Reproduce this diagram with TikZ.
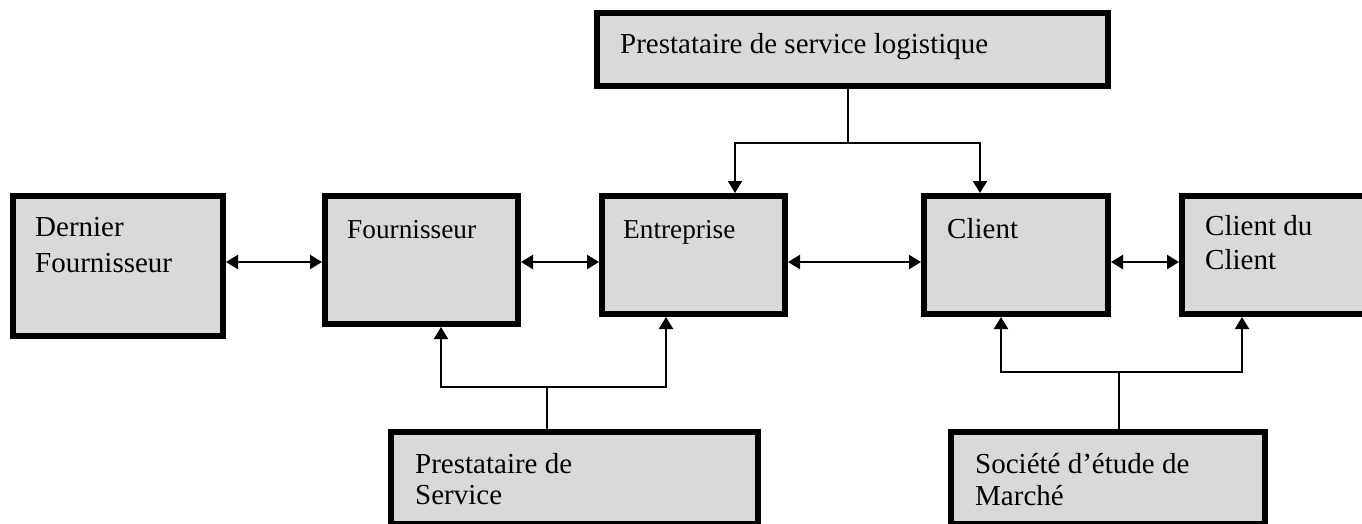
\documentclass[tikz,border=0pt]{standalone}
\usepackage{fontspec}
\setmainfont{Liberation Serif}
\usetikzlibrary{arrows.meta}
\definecolor{boxgray}{HTML}{D9D9D9}
\tikzset{
  box/.style={draw=black, line width=6pt, fill=boxgray, rectangle, inner sep=0pt},
  conn/.style={line width=2pt, line join=miter},
  hconn/.style={line width=2.4pt},
  tipA/.tip={Triangle[length=12pt,width=14pt]},
  txt/.style={anchor=base west, inner sep=0pt, font=\fontsize{29}{34}\selectfont},
  txts/.style={anchor=base west, inner sep=0pt, font=\fontsize{27.3}{32}\selectfont}
}
\begin{document}
\begin{tikzpicture}[x=1pt,y=-1pt]
\clip (0,0) rectangle (1362,523);
\useasboundingbox (0,0) rectangle (1362,523);
\fill[white] (0,0) rectangle (1362,523);
% boxes
\node[box, minimum width=511pt, minimum height=73pt] (lg) at (852.5,49.5) {};
\node[box, minimum width=210pt, minimum height=140pt] (df) at (118,266) {};
\node[box, minimum width=193pt, minimum height=128pt] (fo) at (421.5,260) {};
\node[box, minimum width=183pt, minimum height=118pt] (en) at (693.5,255) {};
\node[box, minimum width=184pt, minimum height=118pt] (cl) at (1016,255) {};
\node[box, minimum width=198pt, minimum height=118pt] (cc) at (1281,255) {};
\node[box, minimum width=367pt, minimum height=92pt] (ps) at (574.5,478) {};
\node[box, minimum width=314pt, minimum height=92pt] (so) at (1108,478) {};
% texts
\node[txt] (tlg) at (620,53) {Prestataire de service logistique};
\node[txt] (tdf1) at (35,236) {Dernier};
\node[txt] (tdf2) at (35,272) {Fournisseur};
\node[txts] (tfo) at (347,238) {Fournisseur};
\node[txts] (ten) at (623,238) {Entreprise};
\node[txt] (tcl) at (947,238) {Client};
\node[txt] (tcc1) at (1205,235) {Client du};
\node[txt] (tcc2) at (1205,269) {Client};
\node[txt] (tps1) at (415,473) {Prestataire de};
\node[txt] (tps2) at (415,504) {Service};
\node[txt] (tso1) at (975,473) {Société d’étude de};
\node[txt] (tso2) at (975,505) {Marché};
% horizontal double arrows
\coordinate (hy) at (0,262);
\draw[hconn, tipA-tipA] (df.east |- hy) -- (fo.west |- hy);
\draw[hconn, tipA-tipA] (fo.east |- hy) -- (en.west |- hy);
\draw[hconn, tipA-tipA] (en.east |- hy) -- (cl.west |- hy);
\draw[hconn, tipA-tipA] (cl.east |- hy) -- (cc.west |- hy);
% top connector
\coordinate (tj) at (848,143);
\coordinate (tl) at (735,143);
\coordinate (tr) at (980,143);
\draw[conn] (lg.south -| tj) -- (tj);
\draw[conn, -tipA] (tj) -- (tl) -- (tl |- en.north);
\draw[conn, -tipA] (tj) -- (tr) -- (tr |- cl.north);
% bottom left connector
\coordinate (bj) at (547,387);
\coordinate (bl) at (441,387);
\coordinate (br) at (666,387);
\draw[conn] (ps.north -| bj) -- (bj);
\draw[conn, -tipA] (bj) -- (bl) -- (bl |- fo.south);
\draw[conn, -tipA] (bj) -- (br) -- (br |- en.south);
% bottom right connector
\coordinate (sj) at (1119,372);
\coordinate (sl) at (1001,372);
\coordinate (sr) at (1242,372);
\draw[conn] (so.north -| sj) -- (sj);
\draw[conn, -tipA] (sj) -- (sl) -- (sl |- cl.south);
\draw[conn, -tipA] (sj) -- (sr) -- (sr |- cc.south);
\end{tikzpicture}
\end{document}
